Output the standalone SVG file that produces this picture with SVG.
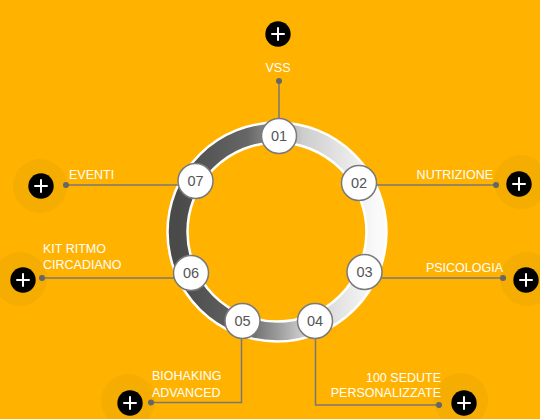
<svg xmlns="http://www.w3.org/2000/svg" width="540" height="419" viewBox="0 0 540 419">
<style>
.bg{fill:#FFB300}
.halo{fill:#F5AD02}
.btn{fill:#000}
.plus{stroke:#fff;stroke-width:2;stroke-linecap:round}
.nc{fill:#fff;stroke:#7a7a7a;stroke-width:1.5}
.num{font-family:"Liberation Sans",Arial,sans-serif;font-size:14.5px;fill:#555;text-anchor:middle}
.lbl{font-family:"Liberation Sans",Arial,sans-serif;font-size:12.5px;fill:#fff}
.ln{fill:none;stroke:#777;stroke-width:1.5}
.dot{fill:#666}
</style>
<defs>
<linearGradient id="ringGrad" x1="0" y1="0" x2="1" y2="0">
<stop offset="0" stop-color="#4a4a4a"/>
<stop offset="0.35" stop-color="#666"/>
<stop offset="0.5" stop-color="#9a9a9a"/>
<stop offset="0.63" stop-color="#cdcdcd"/>
<stop offset="1" stop-color="#fafafa"/>
</linearGradient>
<g id="plusBtn">
<circle class="btn" r="12.7"/>
<path class="plus" d="M-6,0H6M0,-6V6"/>
</g>
</defs>
<rect class="bg" x="0" y="0" width="540" height="419"/>
<g id="halos">
<circle class="halo" cx="40" cy="186" r="27"/>
<circle class="halo" cx="20" cy="279" r="27"/>
<circle class="halo" cx="521" cy="182" r="27"/>
<circle class="halo" cx="527" cy="279" r="27"/>
<circle class="halo" cx="128" cy="401" r="27"/>
<circle class="halo" cx="461" cy="400" r="27"/>
</g>
<g id="ring">
<circle cx="277" cy="232" r="99.5" fill="none" stroke="url(#ringGrad)" stroke-width="19"/>
<circle cx="277" cy="232" r="109.5" fill="none" stroke="#fff" stroke-width="2.5"/>
<circle cx="277" cy="232" r="89.5" fill="none" stroke="#fff" stroke-width="2.5"/>
</g>
<g id="connectors">
<path class="ln" d="M279,120V81"/><circle class="dot" cx="279" cy="81" r="3"/>
<path class="ln" d="M375,185H496"/><circle class="dot" cx="496" cy="185" r="3"/>
<path class="ln" d="M380,278H503"/><circle class="dot" cx="503" cy="278" r="3"/>
<path class="ln" d="M315.5,338V405H439"/><circle class="dot" cx="439" cy="405" r="3"/>
<path class="ln" d="M241.5,338V402.5H151"/><circle class="dot" cx="151" cy="402.5" r="3"/>
<path class="ln" d="M175,278H42"/><circle class="dot" cx="42" cy="278" r="3"/>
<path class="ln" d="M180,185H66"/><circle class="dot" cx="66" cy="185" r="3"/>
</g>
<g id="node01">
<circle class="nc" cx="279" cy="136" r="17.5"/><text class="num" x="279" y="141">01</text>
<text class="lbl" x="278" y="72" text-anchor="middle">VSS</text>
<use href="#plusBtn" x="278" y="34"/>
</g>
<g id="node02">
<circle class="nc" cx="359" cy="183" r="17.5"/><text class="num" x="359" y="188">02</text>
<text class="lbl" x="493" y="179" text-anchor="end">NUTRIZIONE</text>
<use href="#plusBtn" x="519" y="184"/>
</g>
<g id="node03">
<circle class="nc" cx="364.5" cy="272" r="17.5"/><text class="num" x="364.5" y="277">03</text>
<text class="lbl" x="503" y="272" text-anchor="end">PSICOLOGIA</text>
<use href="#plusBtn" x="526" y="280"/>
</g>
<g id="node04">
<circle class="nc" cx="315" cy="321" r="17.5"/><text class="num" x="315" y="326">04</text>
<text class="lbl" x="441" y="382" text-anchor="end">100 SEDUTE</text>
<text class="lbl" x="441" y="397" text-anchor="end">PERSONALIZZATE</text>
<use href="#plusBtn" x="464" y="403"/>
</g>
<g id="node05">
<circle class="nc" cx="242.5" cy="321" r="17.5"/><text class="num" x="242.5" y="326">05</text>
<text class="lbl" x="152" y="380">BIOHAKING</text>
<text class="lbl" x="152" y="397">ADVANCED</text>
<use href="#plusBtn" x="130" y="403"/>
</g>
<g id="node06">
<circle class="nc" cx="191" cy="273" r="17.5"/><text class="num" x="191" y="278">06</text>
<text class="lbl" x="43" y="253">KIT RITMO</text>
<text class="lbl" x="43" y="269">CIRCADIANO</text>
<use href="#plusBtn" x="23" y="280"/>
</g>
<g id="node07">
<circle class="nc" cx="195.5" cy="181" r="17.5"/><text class="num" x="195.5" y="186">07</text>
<text class="lbl" x="69" y="179">EVENTI</text>
<use href="#plusBtn" x="41" y="186"/>
</g>
</svg>
